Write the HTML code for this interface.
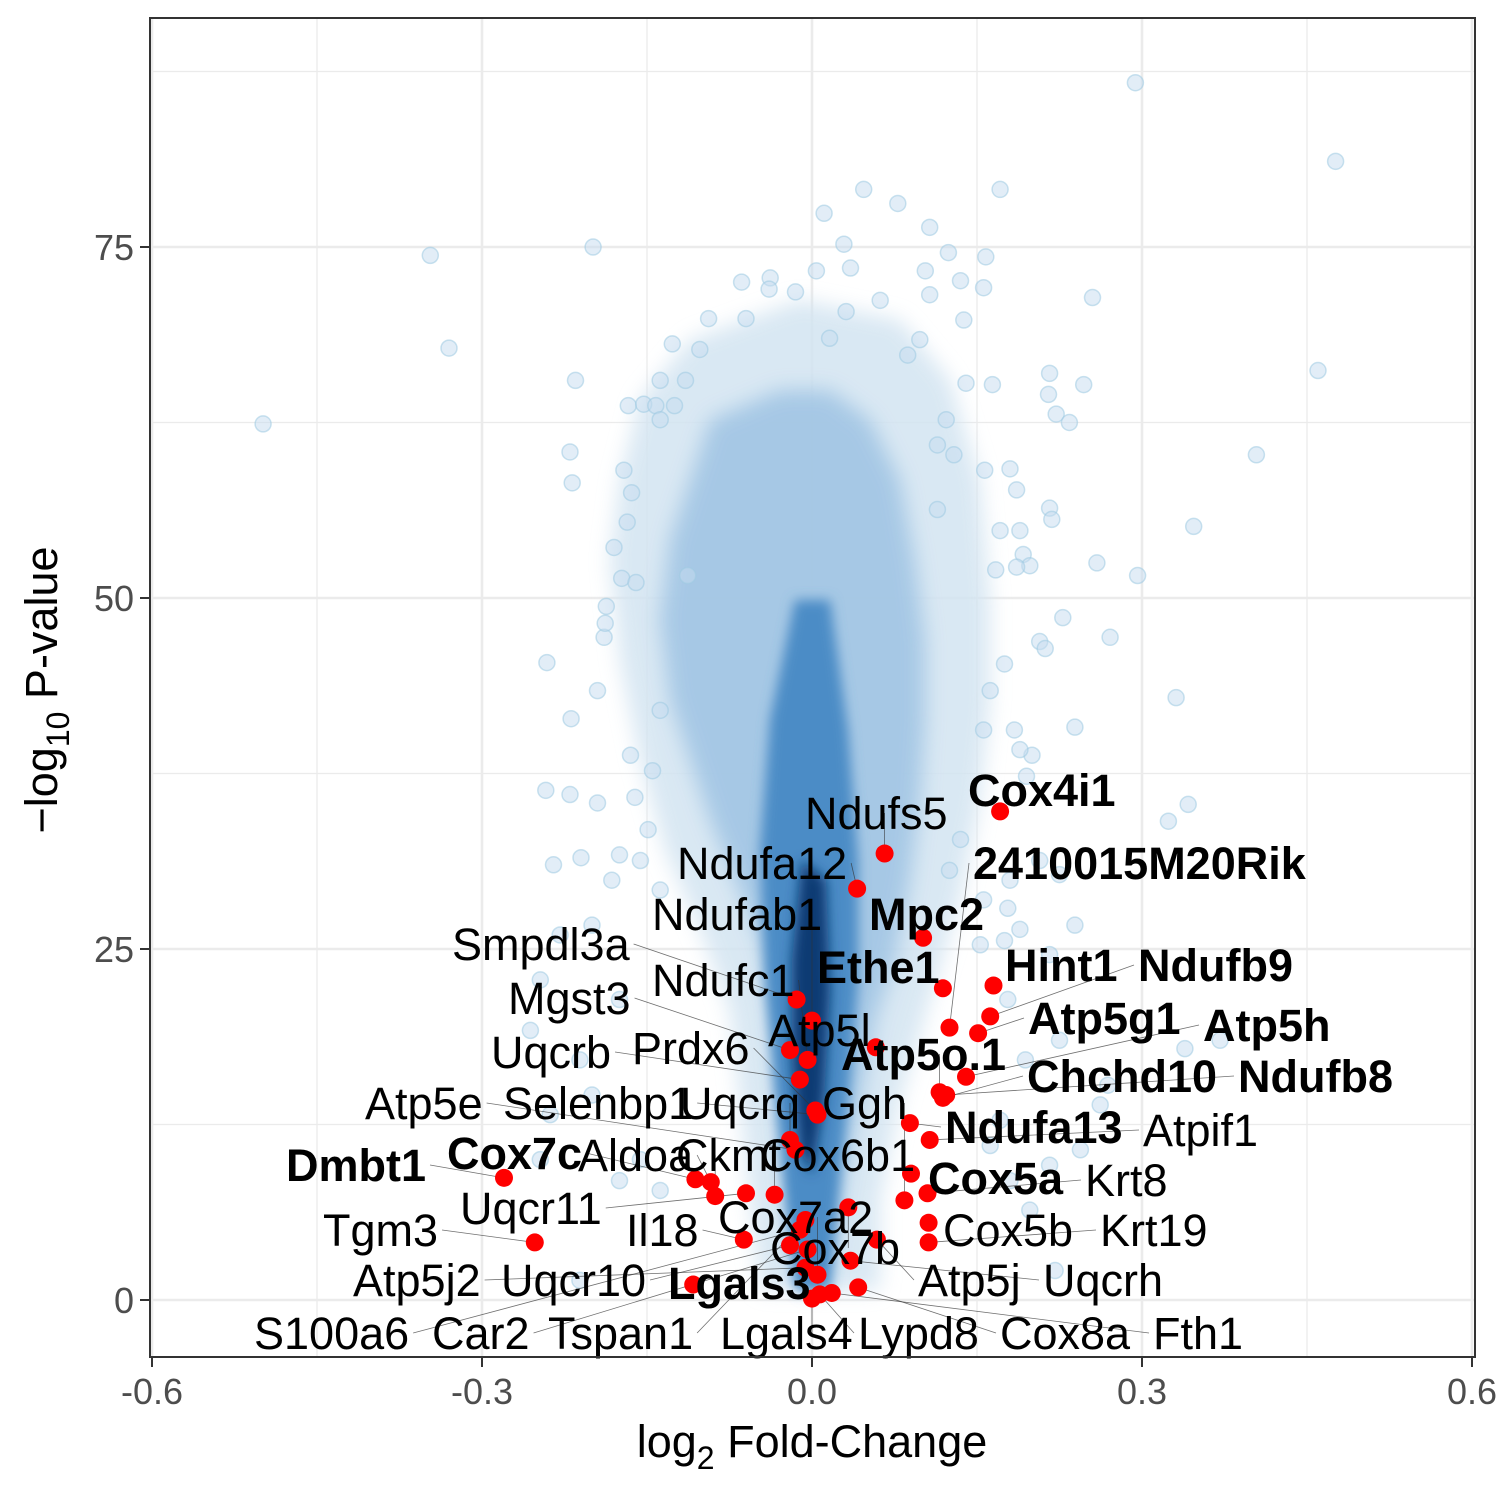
<!DOCTYPE html>
<html><head><meta charset="utf-8"><style>
html,body{margin:0;padding:0;background:#fff;}
svg{display:block;font-family:"Liberation Sans",Arial,sans-serif;}
</style></head><body>
<svg id="chart" width="1500" height="1500" viewBox="0 0 1500 1500">
<defs>
<filter id="blur6" x="-50%" y="-50%" width="200%" height="200%"><feGaussianBlur stdDeviation="10"/></filter>
<filter id="blur3" x="-50%" y="-50%" width="200%" height="200%"><feGaussianBlur stdDeviation="6"/></filter>
<clipPath id="panelClip"><rect x="150" y="18" width="1325" height="1339"/></clipPath>
</defs>
<g id="grid"></g>
<g clip-path="url(#panelClip)">
<path filter="url(#blur6)" fill="#d3e4f1" opacity="0.85" d="M690,340 L640,400 L620,480 L610,560 L620,660 L640,760 L665,850 L700,930 L730,1010 L740,1100 L750,1200 L760,1290 L880,1290 L880,1200 L900,1100 L930,1000 L960,900 L980,800 L990,700 L990,600 L980,480 L950,380 L900,320 L800,300 Z"/>
<path filter="url(#blur6)" fill="#9ec3e3" opacity="0.85" d="M710,420 L690,480 L670,540 L660,620 L670,700 L690,760 L710,820 L735,880 L760,940 L775,1000 L785,1060 L790,1120 L795,1180 L800,1240 L805,1290 L825,1290 L835,1230 L845,1170 L860,1100 L875,1020 L895,960 L910,880 L920,800 L925,720 L925,640 L915,560 L900,480 L870,420 L830,390 L780,390 Z"/>
<path filter="url(#blur3)" fill="#4b8cc6" d="M795,600 L770,720 L760,850 L765,980 L775,1100 L785,1200 L795,1290 L830,1290 L840,1180 L850,1080 L858,980 L858,860 L848,730 L830,600 Z"/>
<path filter="url(#blur3)" fill="#0e3b73" d="M802,860 L792,960 L792,1060 L800,1150 L812,1175 L824,1100 L830,990 L826,880 Z"/>
</g>
<g id="bgpts" clip-path="url(#panelClip)"></g>
<g id="lines"></g>
<g id="redpts"></g>
<g id="labels"></g>
<rect x="150" y="18" width="1325" height="1339" fill="none" stroke="#333" stroke-width="2"/>
<g id="axes"></g>
<text x="812" y="1457" text-anchor="middle" font-size="45" fill="#000">log<tspan font-size="32" dy="12">2</tspan><tspan dy="-12"> Fold-Change</tspan></text>
<text transform="translate(57,690) rotate(-90)" text-anchor="middle" font-size="45" fill="#000">−log<tspan font-size="32" dy="12">10</tspan><tspan dy="-12"> P-value</tspan></text>
</svg>
<script>
const xTicks=[-0.6,-0.3,0.0,0.3,0.6];
const xTickLabels=["-0.6","-0.3","0.0","0.3","0.6"];
const yTicks=[0,25,50,75];
const yTickLabels=["0","25","50","75"];
const bgX=[0.294,0.476,-0.347,-0.199,-0.33,-0.499,0.255,0.46,0.404,0.347,0.296,0.331,0.342,0.324,-0.241,-0.219,-0.195,-0.242,-0.22,-0.195,-0.161,-0.235,-0.21,-0.215,-0.22,-0.218,-0.189,-0.188,0.259,0.239,0.247,0.216,0.215,0.222,0.234,0.216,0.218,0.228,0.271,0.207,0.212,0.2,0.195,0.171,0.158,0.156,0.138,0.14,0.164,0.157,0.18,0.186,0.171,0.189,0.192,0.198,0.186,0.167,0.107,0.124,0.078,0.047,0.011,0.035,0.004,-0.038,-0.015,-0.039,-0.064,-0.094,-0.06,-0.127,-0.138,-0.115,-0.102,-0.167,-0.153,-0.142,-0.125,-0.138,-0.171,-0.164,-0.168,-0.18,-0.173,-0.16,-0.187,-0.113,0.175,0.162,0.156,0.184,0.189,0.122,0.114,0.114,0.129,0.087,0.098,0.062,0.031,0.016,0.107,0.135,0.103,0.029,0.18,0.178,0.189,0.175,0.153,0.207,0.225,0.239,0.216,0.262,0.244,0.216,0.198,0.221,0.371,0.339,0.269,-0.229,-0.2,-0.247,-0.256,-0.238,-0.211,-0.175,-0.175,-0.182,-0.156,-0.138,-0.149,-0.145,-0.165,-0.138,-0.211,-0.175,-0.156,-0.138,-0.247,-0.2,0.178,0.194,0.225,0.135,0.125,0.156,0.171,0.162,0.18];
const bgY=[86.7,81.1,74.4,75.0,67.8,62.4,71.4,66.2,60.2,55.1,51.6,42.9,35.3,34.1,45.4,41.4,43.4,36.3,36.0,35.4,35.8,31.0,31.5,65.5,60.4,58.2,47.2,48.2,52.5,40.8,65.2,66.0,64.5,63.1,62.5,56.4,55.6,48.6,47.2,46.9,46.4,38.8,37.3,79.1,74.3,72.1,69.8,65.3,65.2,59.1,59.2,57.7,54.8,54.8,53.1,52.3,52.2,52.0,76.4,74.6,78.1,79.1,77.4,73.5,73.3,72.8,71.8,72.0,72.5,69.9,69.9,68.1,65.5,65.5,67.7,63.7,63.8,63.7,63.7,62.7,59.1,57.5,55.4,53.6,51.4,51.1,49.4,51.6,45.3,43.4,40.6,40.6,39.2,62.7,60.9,56.3,60.2,67.3,68.4,71.2,70.4,68.5,71.6,72.6,73.3,75.2,29.9,27.9,26.4,25.6,25.3,31.3,30.3,26.7,24.6,13.9,10.7,9.6,6.4,2.1,18.5,17.9,15.3,26.0,26.7,22.8,19.2,13.2,17.1,21.4,31.7,29.9,31.3,29.2,33.5,37.7,38.8,42.0,1.4,8.5,10.0,7.8,10.0,14.6,21.4,17.1,18.5,32.8,30.6,28.5,12.8,11.0,8.5];
const genes=["Cox4i1","Ndufs5","Ndufa12","2410015M20Rik","Mpc2","Ndufab1","Smpdl3a","Ethe1","Hint1","Ndufb9","Ndufc1","Mgst3","Atp5g1","Atp5h","Atp5l","Uqcrb","Prdx6","Atp5o.1","Chchd10","Ndufb8","Atp5e","Selenbp1","Uqcrq","Ggh","Ndufa13","Atpif1","Dmbt1","Cox7c","Aldoa","Ckmt","Cox6b1","Cox5a","Krt8","Uqcr11","Cox7a2","Tgm3","Il18","Cox5b","Krt19","Cox7b","Atp5j2","Uqcr10","Lgals3","Atp5j","Uqcrh","S100a6","Car2","Tspan1","Lgals4","Lypd8","Cox8a","Fth1"];
const geneX=[0.171,0.066,0.041,0.125,0.101,0.0,-0.014,0.119,0.165,0.162,-0.004,-0.02,0.151,0.14,0.058,-0.011,0.003,0.116,0.119,0.122,-0.015,0.005,-0.02,0.084,0.089,0.107,-0.28,-0.106,-0.092,-0.088,-0.034,0.09,0.105,-0.06,0.005,-0.252,-0.062,0.106,0.106,0.033,-0.006,-0.02,-0.108,0.059,0.035,-0.011,-0.004,-0.006,0.0,0.007,0.042,0.018];
const geneY=[34.8,31.8,29.3,19.4,25.8,19.9,21.4,22.2,22.4,20.2,17.1,17.8,19.0,15.9,18.0,15.7,13.5,14.8,14.4,14.6,10.7,13.2,11.4,7.1,12.6,11.4,8.7,8.6,8.4,7.4,7.5,9.0,7.6,7.6,1.8,4.1,4.3,5.5,4.1,6.6,2.3,3.9,1.1,4.3,2.8,5.0,3.6,5.7,0.1,0.4,0.9,0.5];
const geneBold=[1,0,0,1,1,0,0,1,1,1,0,0,1,1,0,0,0,1,1,1,0,0,0,0,1,0,1,1,0,0,0,1,0,0,0,0,0,0,0,0,0,0,1,0,0,0,0,0,0,0,0,0];
const labelLeft=[968,805,677,973,869,652,452,817,1005,1138,652,508,1028,1203,768,491,632,841,1027,1238,365,503,680,822,945,1143,286,447,578,676,760,928,1085,460,718,323,626,943,1100,770,353,501,668,918,1043,254,432,548,720,858,1000,1153];
const labelMid=[790,813,863,863,914,914,944,967,965,965,980,998,1018,1025,1030,1052,1048,1054,1076,1076,1103,1103,1103,1103,1127,1130,1165,1153,1155,1155,1155,1178,1180,1208,1217,1230,1230,1230,1230,1248,1280,1280,1283,1280,1280,1333,1333,1333,1333,1333,1333,1333];

const NS="http://www.w3.org/2000/svg";
const X0=150,X1=1475,Y0=18,Y1=1357;
function sx(v){return 812+v*1100;}
function sy(v){return 1300-v*14.04;}
function mk(t,a){const e=document.createElementNS(NS,t);for(const k in a)e.setAttribute(k,a[k]);return e;}
const grid=document.getElementById('grid');
grid.appendChild(mk('rect',{x:X0,y:Y0,width:X1-X0,height:Y1-Y0,fill:'#fff'}));
[-0.45,-0.15,0.15,0.45].forEach(v=>{const l=mk('line',{x1:sx(v),x2:sx(v),y1:Y0,y2:Y1,stroke:'#ebebeb','stroke-width':1.3});grid.appendChild(l);});
[12.5,37.5,62.5,87.5].forEach(v=>{const l=mk('line',{x1:X0,x2:X1,y1:sy(v),y2:sy(v),stroke:'#ebebeb','stroke-width':1.3});grid.appendChild(l);});
xTicks.forEach(v=>{const l=mk('line',{x1:sx(v),x2:sx(v),y1:Y0,y2:Y1,stroke:'#ebebeb','stroke-width':2.6});grid.appendChild(l);});
yTicks.forEach(v=>{const l=mk('line',{x1:X0,x2:X1,y1:sy(v),y2:sy(v),stroke:'#ebebeb','stroke-width':2.6});grid.appendChild(l);});

const axes=document.getElementById('axes');
xTicks.forEach((v,i)=>{
 const t=mk('line',{x1:sx(v),x2:sx(v),y1:Y1,y2:Y1+10,stroke:'#333','stroke-width':2});axes.appendChild(t);
 const s=mk('text',{x:sx(v),y:Y1+47,'text-anchor':'middle','font-size':36,fill:'#4d4d4d'});s.textContent=xTickLabels[i];axes.appendChild(s);
});
yTicks.forEach((v,i)=>{
 const t=mk('line',{x1:X0-10,x2:X0,y1:sy(v),y2:sy(v),stroke:'#333','stroke-width':2});axes.appendChild(t);
 const s=mk('text',{x:X0-16,y:sy(v)+13,'text-anchor':'end','font-size':36,fill:'#4d4d4d'});s.textContent=yTickLabels[i];axes.appendChild(s);
});

const bg=document.getElementById('bgpts');
bgX.forEach((v,i)=>{
 const c=mk('circle',{cx:sx(v),cy:sy(bgY[i]),r:8,fill:'#c6dbef','fill-opacity':0.5,stroke:'#9ecae1','stroke-opacity':0.55,'stroke-width':1.5});
 
 
 bg.appendChild(c);
});

const lines=document.getElementById('lines'),red=document.getElementById('redpts'),labs=document.getElementById('labels');
genes.forEach((g,i)=>{
 const px=sx(geneX[i]),py=sy(geneY[i]);
 const fw=geneBold[i]?'bold':'normal';
 const t=mk('text',{x:labelLeft[i],y:labelMid[i]+16,'font-size':45,'font-weight':fw,fill:'#000'});
 t.textContent=g;
 
 
 labs.appendChild(t);
 const w=t.getComputedTextLength?t.getComputedTextLength():g.length*22;
 let lx;
 if(px>labelLeft[i]+w/2) lx=labelLeft[i]+w+4; else lx=labelLeft[i]-4;
 if(px>labelLeft[i]&&px<labelLeft[i]+w) lx=px;
 const d=Math.hypot(lx-px,labelMid[i]-py);
 if(d>25){
  const l=mk('line',{x1:lx,y1:labelMid[i],x2:px,y2:py,stroke:'#333','stroke-width':0.8,'stroke-opacity':0.7});
  
  
  lines.appendChild(l);
 }
 const c=mk('circle',{cx:px,cy:py,r:9,fill:'#ff0000'});
 
 
 red.appendChild(c);
});
</script>
</body></html>
